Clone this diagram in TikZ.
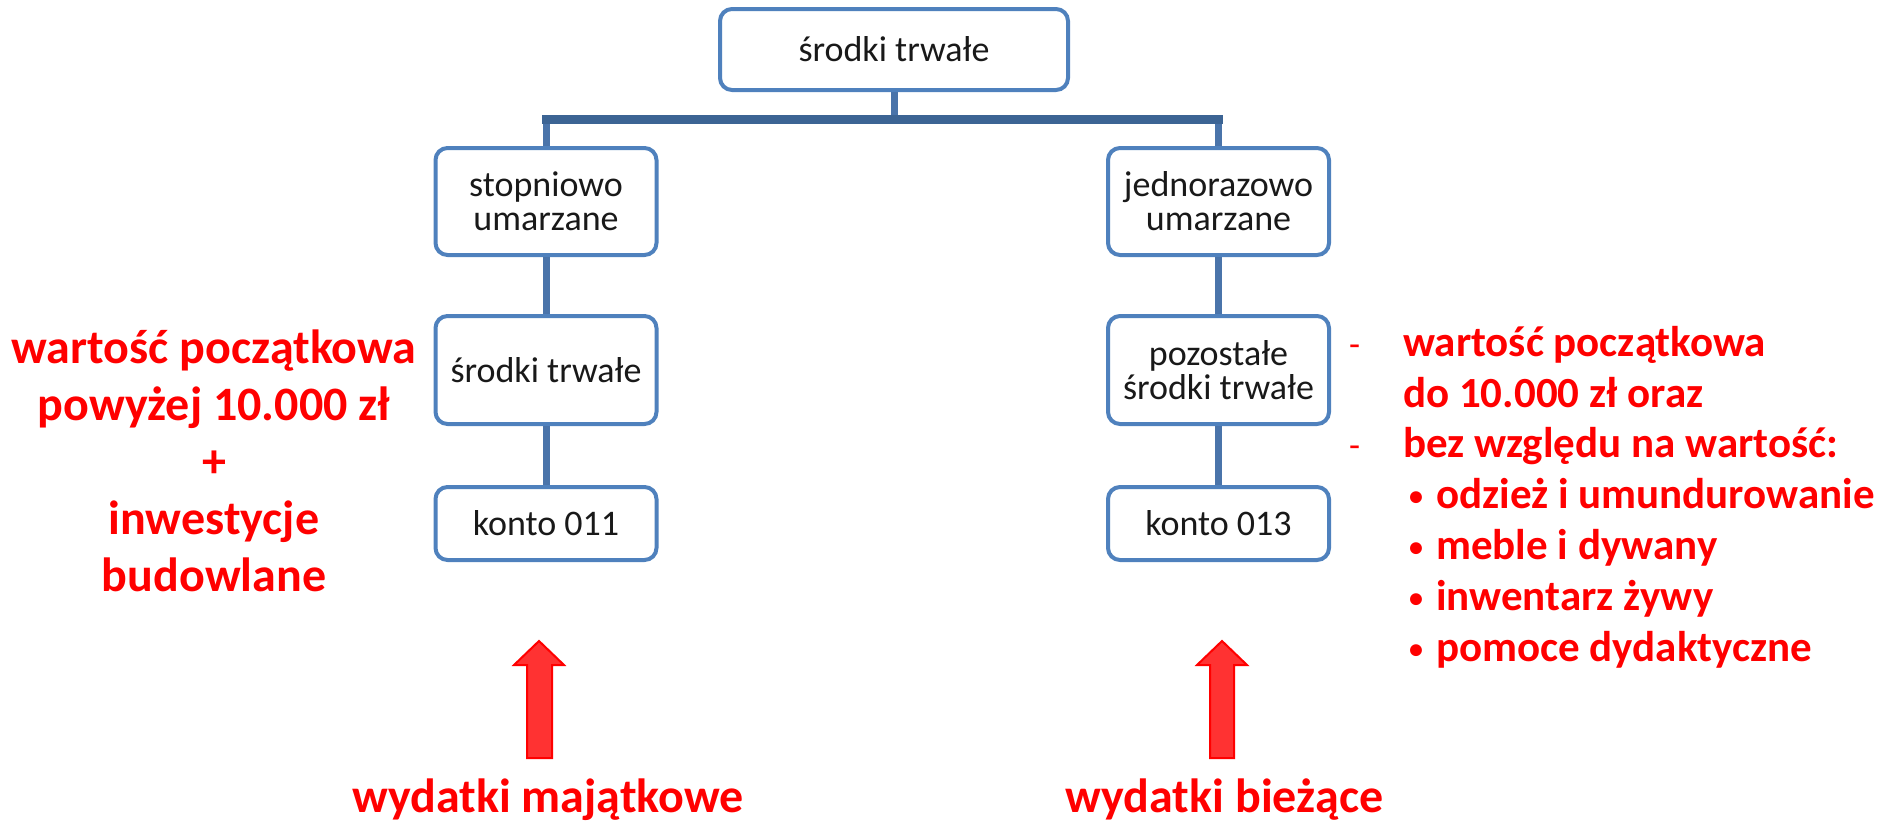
\documentclass[tikz,border=0pt]{standalone}
\usepackage{fontspec}
\setmainfont{Carlito}
\usetikzlibrary{positioning}

\definecolor{boxblue}{RGB}{79,129,189}
\definecolor{linkblue}{RGB}{74,116,170}
\definecolor{barblue}{RGB}{60,100,148}
\definecolor{arrowred}{RGB}{255,50,50}

\tikzset{
	orgbox/.style={draw=boxblue, line width=4pt, rounded corners=12pt, fill=white, align=center,
		minimum width=221pt, text=black!90, font=\fontsize{36}{34}\selectfont},
	link/.style={linkblue, line width=7pt},
	barline/.style={barblue, line width=9pt, line cap=rect},
	redtext/.style={text=red, inner sep=0pt},
	uparrow/.style={draw=red, fill=arrowred, line width=2pt}
}

\newcommand{\kreska}{\llap{\fontseries{m}\fontsize{36}{36}\selectfont -\hspace{43pt}}}
\newcommand{\kropka}{\makebox[33pt][l]{\hspace{6pt}\raisebox{3pt}{\fontsize{28}{28}\selectfont\textbullet}}}

\begin{document}
\begin{tikzpicture}[x=1pt,y=-1pt]

	\useasboundingbox (0,0) rectangle (1877,822);

	% Schemat
	\node [orgbox, minimum width=348pt, minimum height=81pt] (top) at (894,49.5) {środki trwałe};

	\node [orgbox, minimum height=107pt] (stop) at (546,201.5) {stopniowo\\umarzane};
	\node [orgbox, minimum height=108pt] (srodki) at (546,370) {środki trwałe};
	\node [orgbox, minimum height=73pt] (k011) at (546,523.5) {konto 011};

	\node [orgbox, minimum height=107pt] (jedn) at (1218.5,201.5) {jednorazowo\\umarzane};
	\node [orgbox, minimum height=108pt] (pozost) at (1218.5,370) {pozostałe\\środki trwałe};
	\node [orgbox, minimum height=73pt] (k013) at (1218.5,523.5) {konto 013};

	% Linie
	\coordinate (bar) at (894,119);
	\draw [link] (top) -- (top |- bar);
	\draw [link] (stop) -- (stop |- bar);
	\draw [link] (jedn) -- (jedn |- bar);
	\draw [barline] (stop |- bar) -- (jedn |- bar);

	\draw [link] (stop) -- (srodki);
	\draw [link] (srodki) -- (k011);
	\draw [link] (jedn) -- (pozost);
	\draw [link] (pozost) -- (k013);

	% Strzalki
	\draw [uparrow] (539,641) -- (564,665) -- (552,665) -- (552,758) -- (527,758) -- (527,665) -- (514,665) -- cycle;
	\draw [uparrow] (1222,641) -- (1247,665) -- (1234,665) -- (1234,758) -- (1210,758) -- (1210,665) -- (1197,665) -- cycle;

	% Tekst
	\node [redtext, anchor=north, align=center, font=\fontsize{48}{57}\selectfont\bfseries] (lewy) at (214,330)
		{wartość początkowa\\powyżej 10.000 zł\\+\\inwestycje\\budowlane};

	\node [redtext, anchor=north west, align=left, font=\fontsize{43}{50.8}\selectfont\bfseries] (prawy) at (1403,326)
		{\kreska wartość początkowa\\
		 do 10.000 zł oraz\\
		 \kreska bez względu na wartość:\\
		 \kropka odzież i umundurowanie\\
		 \kropka meble i dywany\\
		 \kropka inwentarz żywy\\
		 \kropka pomoce dydaktyczne};

	\node [redtext, anchor=base, font=\fontsize{48}{55}\selectfont\bfseries] (majatkowe) at (548,812) {wydatki majątkowe};
	\node [redtext, anchor=base, font=\fontsize{48}{55}\selectfont\bfseries] (biezace) at (1224.5,812) {wydatki bieżące};

\end{tikzpicture}
\end{document}
